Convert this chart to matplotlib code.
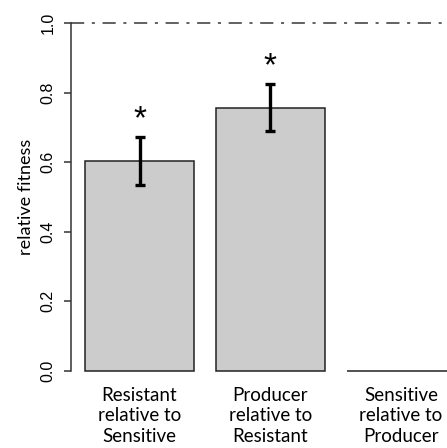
import matplotlib.pyplot as plt

plt.rcParams["lines.scale_dashes"] = False

labels = ["Resistant\nrelative to\nSensitive",
          "Producer\nrelative to\nResistant",
          "Sensitive\nrelative to\nProducer"]
fitness = [0.603, 0.756, 0.0]
err_low = [0.534, 0.690, 0.0]
err_high = [0.672, 0.825, 0.0]
stars = ["*", "*", ""]
yticks = [0.0, 0.2, 0.4, 0.6, 0.8, 1.0]

# R barplot style positions: width 1, space 0.2
centers = [0.7 + 1.2 * i for i in range(len(fitness))]

fig = plt.figure(figsize=(4.47, 4.48), dpi=100)
ax = fig.add_axes([71 / 447, 70 / 448, 376 / 447, 363 / 448])

ax.bar(centers, fitness, width=1.0, color="#cccccc", edgecolor="#222222",
       linewidth=1.1, zorder=2)

lo = [f - l for f, l in zip(fitness, err_low)]
hi = [h - f for f, h in zip(fitness, err_high)]
ax.errorbar(centers[:2], fitness[:2], yerr=[lo[:2], hi[:2]], fmt="none",
            ecolor="black", elinewidth=2.4, capsize=3.5, capthick=2.4, zorder=3)

for c, h, s in zip(centers, err_high, stars):
    if s:
        ax.text(c, h + 0.005, s, ha="center", va="bottom", fontsize=24,
                family="Liberation Sans")

ax.axhline(1.0, color="#555555", linewidth=1.3,
           linestyle=(0, (9.5, 5.5, 2.2, 5.5)), zorder=1)

ax.set_xlim(0.2 - 14 / 109, 0.2 + 362 / 109)
ax.set_ylim(-7 / 348, 1 + 8 / 348)

for side in ["top", "right", "bottom"]:
    ax.spines[side].set_visible(False)
ax.spines["left"].set_bounds(0, 1)
ax.spines["left"].set_color("#333333")
ax.spines["left"].set_linewidth(1.1)

ax.set_yticks(yticks)
ax.set_yticklabels([f"{t:.1f}" for t in yticks], rotation=90, va="center",
                   family="Liberation Sans", fontsize=11.5)
ax.tick_params(axis="y", length=5, width=1.1, color="#333333", pad=6)
ax.set_xticks([])

for c, lab in zip(centers, labels):
    ax.text(c, -0.045, lab, ha="center", va="top", fontsize=13.5,
            family="Lato", linespacing=1.25)

ax.set_ylabel("relative fitness", family="Lato", fontsize=13, labelpad=5)

fig.savefig("out.png", dpi=100)
